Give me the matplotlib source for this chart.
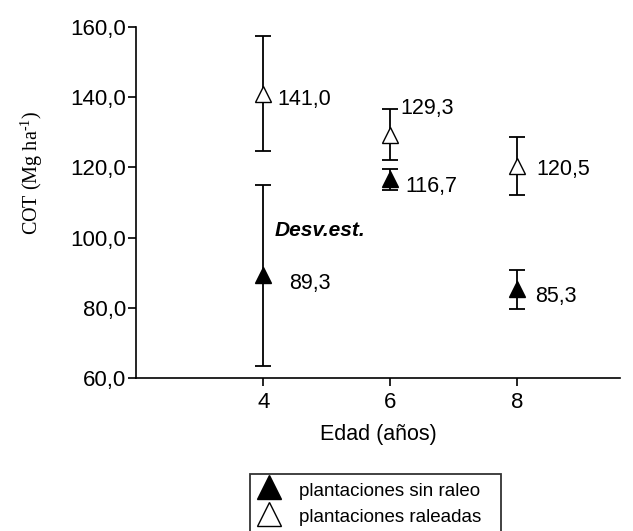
import matplotlib
matplotlib.use("Agg")
import matplotlib.pyplot as plt

plt.rcParams['font.family'] = ['Liberation Sans', 'DejaVu Sans']
plt.rcParams['mathtext.fontset'] = 'custom'
plt.rcParams['mathtext.rm'] = 'Liberation Serif'

# data
edad = [4, 6, 8]
sin_raleo = [89.3, 116.7, 85.3]
sin_raleo_sd = [25.8, 3.0, 5.6]
raleadas = [141.0, 129.3, 120.5]
raleadas_sd = [16.4, 7.3, 8.2]
yticks = [60, 80, 100, 120, 140, 160]

# label offsets in points (dx, dy)
off_sin = [(19, -6), (11, -5), (13, -5)]
off_ral = [(10, -4), (7, 19), (14, -3)]

fig = plt.figure(figsize=(6.33, 5.31), dpi=100)
ax = fig.add_axes([0.215, 0.288, 0.765, 0.661])

ax.errorbar(edad, sin_raleo, yerr=sin_raleo_sd, fmt='^', color='black',
            mfc='black', mec='black', ms=11, capsize=5.5, elinewidth=1.3,
            capthick=1.3, label='plantaciones sin raleo')
ax.errorbar(edad, raleadas, yerr=raleadas_sd, fmt='^', color='black',
            mfc='white', mec='black', ms=11, capsize=5.5, elinewidth=1.3,
            capthick=1.3, label='plantaciones raleadas')

for x, y, o in zip(edad, sin_raleo, off_sin):
    ax.annotate(f'{y:.1f}'.replace('.', ','), (x, y), xytext=o,
                textcoords='offset points', va='center', ha='left', fontsize=15.5)
for x, y, o in zip(edad, raleadas, off_ral):
    ax.annotate(f'{y:.1f}'.replace('.', ','), (x, y), xytext=o,
                textcoords='offset points', va='center', ha='left', fontsize=15.5)

ax.text(0.287, 0.42, 'Desv.est.', transform=ax.transAxes, fontsize=15,
        fontweight='bold', fontstyle='italic', va='center', ha='left')

ax.set_xlim(2, 9.62)
ax.set_ylim(60, 160)
ax.set_xticks(edad)
ax.set_yticks(yticks)
ax.set_yticklabels([f'{v:.1f}'.replace('.', ',') for v in yticks])
ax.tick_params(axis='both', direction='out', length=6, width=1.2, labelsize=16, colors='black')
ax.tick_params(axis='y', pad=1)
ax.tick_params(axis='x', pad=4)
for s in ['top', 'right']:
    ax.spines[s].set_visible(False)
for s in ['left', 'bottom']:
    ax.spines[s].set_linewidth(1.2)

ax.set_xlabel('Edad (años)', fontsize=15.5, labelpad=8)
ax.set_ylabel(r'COT (Mg ha$^{\text{-1}}$)', fontsize=14.5, family=['Liberation Serif'])
ax.yaxis.set_label_coords(-0.188, 0.584)

h, l = ax.get_legend_handles_labels()
h = [hh[0] for hh in h]
l = [s + '   ' for s in l]
leg = fig.legend(h, l, loc='upper left', bbox_to_anchor=(250 / 633, 1 - 474 / 531),
                 fontsize=13.5, markerscale=1.6, frameon=True, fancybox=False,
                 edgecolor='black', borderpad=0.25, labelspacing=0.3,
                 handlelength=1.5, handleheight=1.37, handletextpad=0.85,
                 borderaxespad=0)
leg.get_frame().set_linewidth(1.3)

plt.savefig('out.png', dpi=100)
